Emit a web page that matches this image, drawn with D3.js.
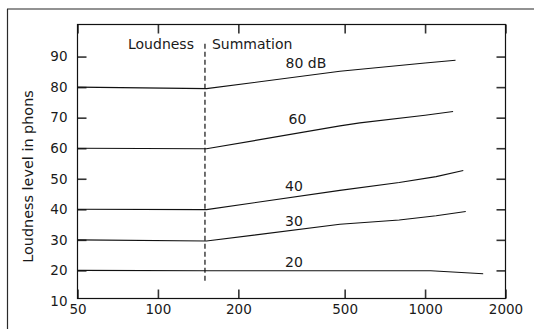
<!DOCTYPE html>
<html>
<head>
<meta charset="utf-8">
<script src="https://cdn.jsdelivr.net/npm/d3@7"></script>
<style>
  html, body { margin: 0; padding: 0; background: #fff; }
  svg { display: block; }
  text { font-family: "DejaVu Sans", sans-serif; fill: #1a1a1a; }
</style>
</head>
<body>
<svg id="chart" width="534" height="329"></svg>
<script>
// Loudness level (phons) vs. bandwidth (Hz) for several sound pressure levels
const seriesNames = ["80 dB", "60", "40", "30", "20"];
const level80 = [[50, 80], [152, 79.5], [480, 85.2], [1000, 87.9], [1300, 88.8]];
const level60 = [[50, 60], [152, 59.8], [480, 67.3], [570, 68.3], [1000, 70.8], [1273, 72]];
const level40 = [[50, 40], [152, 39.9], [480, 46.2], [800, 48.8], [1100, 50.7], [1390, 52.7]];
const level30 = [[50, 30], [152, 29.6], [480, 35.1], [800, 36.5], [1100, 37.9], [1420, 39.3]];
const level20 = [[50, 20], [152, 19.9], [1050, 19.9], [1650, 18.9]];
const labelFreq = [358, 333, 323, 323, 323];
const labelLevel = [86.2, 68.0, 46.0, 34.5, 21.1];
const criticalBand = 150;          // bandwidth where summation starts
const criticalSpan = [16.2, 94.2]; // vertical extent of the dashed marker
const xTicks = [50, 100, 200, 500, 1000, 2000];
const yTicks = [10, 20, 30, 40, 50, 60, 70, 80, 90];
const regionLabels = ["Loudness", "Summation"];
const yTitle = "Loudness level in phons";

const series = [level80, level60, level40, level30, level20];

const svg = d3.select("#chart");
const plotLeft = 77.5, plotRight = 505.5, plotTop = 24.5, plotBottom = 298.5;

const x = d3.scaleLog().domain([50, 2000]).range([plotLeft, plotRight]);
const y = d3.scaleLinear().domain([10.8, 100.5]).range([plotBottom, plotTop]);

// outer frame
svg.append("line").attr("x1", 7).attr("x2", 534).attr("y1", 9).attr("y2", 9)
  .attr("stroke", "#6e6e6e").attr("stroke-width", 1.6);
svg.append("line").attr("x1", 7.5).attr("x2", 7.5).attr("y1", 9).attr("y2", 329)
  .attr("stroke", "#2a2a2a").attr("stroke-width", 1.2);

const fmt = d => String(d);
const tickLen = 9;

// inward ticks: dir gives the direction from the border into the plot
function styleAxis(attr, dir) {
  return g => {
    g.select(".domain").remove();
    g.selectAll(".tick line").attr(attr, dir * tickLen)
      .attr("stroke", "#333").attr("stroke-width", 1.6);
    g.selectAll(".tick text").attr("font-size", 13.5).attr("fill", "#1a1a1a")
      .attr("font-family", "DejaVu Sans, sans-serif");
  };
}

// bottom axis with labels
svg.append("g").attr("transform", `translate(0,${plotBottom})`)
  .call(d3.axisBottom(x).tickValues(xTicks).tickFormat(fmt).tickSizeInner(-tickLen).tickSizeOuter(0).tickPadding(6))
  .call(styleAxis("y2", -1));
// top axis, ticks only
svg.append("g").attr("transform", `translate(0,${plotTop})`)
  .call(d3.axisTop(x).tickValues(xTicks).tickFormat("").tickSizeInner(-tickLen).tickSizeOuter(0))
  .call(styleAxis("y2", 1));
// left axis with labels
const yl = svg.append("g").attr("transform", `translate(${plotLeft},0)`)
  .call(d3.axisLeft(y).tickValues(yTicks).tickFormat(fmt).tickSizeInner(-tickLen).tickSizeOuter(0).tickPadding(10))
  .call(styleAxis("x2", 1));
// right axis, ticks only
const yr = svg.append("g").attr("transform", `translate(${plotRight},0)`)
  .call(d3.axisRight(y).tickValues(yTicks).tickFormat("").tickSizeInner(-tickLen).tickSizeOuter(0))
  .call(styleAxis("x2", -1));
// the lowest tick sits on the bottom border
[yl, yr].forEach(g => g.selectAll(".tick").filter(d => d === 10).select("line").remove());

// plot border
svg.append("rect").attr("x", plotLeft).attr("y", plotTop)
  .attr("width", plotRight - plotLeft).attr("height", plotBottom - plotTop)
  .attr("fill", "none").attr("stroke", "#111").attr("stroke-width", 1.2);

// y title
svg.append("text")
  .attr("transform", `translate(32.5,176.5) rotate(-90)`)
  .attr("text-anchor", "middle").attr("font-size", 14.4)
  .text(yTitle);

// dashed critical band marker
const xc = x(criticalBand);
svg.append("line").attr("x1", xc).attr("x2", xc)
  .attr("y1", y(criticalSpan[1])).attr("y2", y(criticalSpan[0]))
  .attr("stroke", "#111").attr("stroke-width", 1.2).attr("stroke-dasharray", "5,3");

svg.append("text").attr("x", xc - 11).attr("y", plotTop + 24.5)
  .attr("text-anchor", "end").attr("font-size", 14).text(regionLabels[0]);
svg.append("text").attr("x", xc + 7).attr("y", plotTop + 24.5)
  .attr("text-anchor", "start").attr("font-size", 14).text(regionLabels[1]);

// curves: straight segments between readings, with a sharp knee at the critical band
const line = d3.line().x(d => x(d[0])).y(d => y(d[1]));
svg.append("g").selectAll("path").data(series).join("path")
  .attr("d", line).attr("fill", "none").attr("stroke", "#111").attr("stroke-width", 1.1);

// curve labels
svg.append("g").selectAll("text").data(seriesNames).join("text")
  .attr("x", (d, i) => x(labelFreq[i])).attr("y", (d, i) => y(labelLevel[i]))
  .attr("text-anchor", "middle").attr("font-size", 14)
  .text(d => d);
</script>
</body>
</html>
